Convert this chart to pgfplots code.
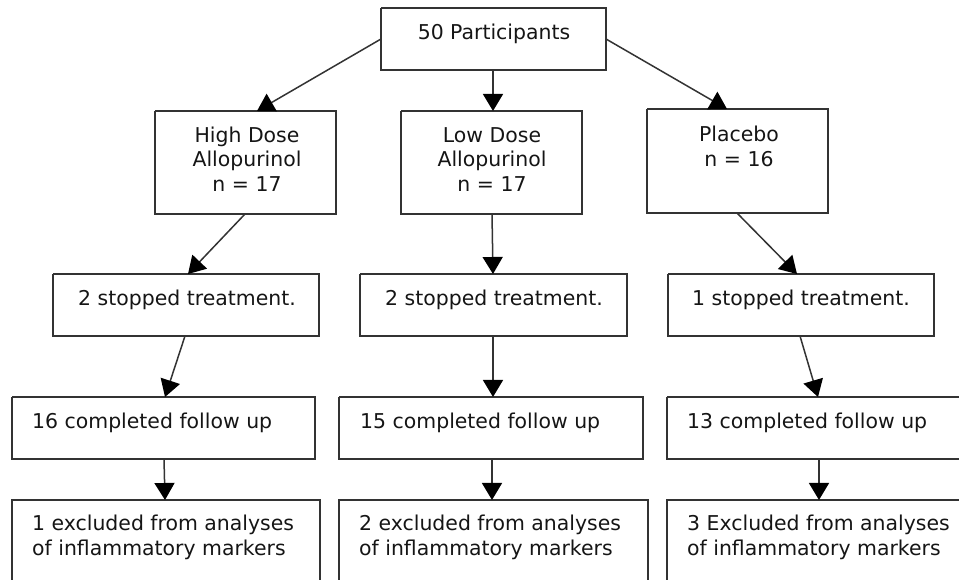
\documentclass[border=0pt]{standalone}
\usepackage{fontspec}
\setmainfont{DejaVu Sans}
\usepackage{pgfplots}
\pgfplotsset{compat=1.18}
\usetikzlibrary{arrows.meta}
\definecolor{ln}{HTML}{333333}
\definecolor{tx}{HTML}{151515}
\begin{document}
\begin{tikzpicture}
\begin{axis}[
  width=959bp, height=580bp, scale only axis,
  xmin=0, xmax=959, ymin=0, ymax=580, y dir=reverse,
  hide axis, clip=true,
  box/.style={line width=1.5bp, draw=ln, solid, no markers, line join=miter},
  arr/.style={line width=1.5bp, draw=ln, solid, no markers, -{Triangle[width=20bp,length=17bp,color=black]}},
]
% boxes
\addplot[box] coordinates {(381,8) (606,8) (606,70) (381,70) (381,8)};
\addplot[box] coordinates {(155,111) (336,111) (336,214) (155,214) (155,111)};
\addplot[box] coordinates {(401,111) (582,111) (582,214) (401,214) (401,111)};
\addplot[box] coordinates {(647,109) (828,109) (828,213) (647,213) (647,109)};
\addplot[box] coordinates {(53,274) (319,274) (319,336) (53,336) (53,274)};
\addplot[box] coordinates {(360,274) (627,274) (627,336) (360,336) (360,274)};
\addplot[box] coordinates {(668,274) (934,274) (934,336) (668,336) (668,274)};
\addplot[box] coordinates {(12,397) (315,397) (315,459) (12,459) (12,397)};
\addplot[box] coordinates {(339,397) (643,397) (643,459) (339,459) (339,397)};
\addplot[box] coordinates {(667,397) (985,397) (985,459) (667,459) (667,397)};
\addplot[box] coordinates {(12,600) (12,500) (320,500) (320,600)};
\addplot[box] coordinates {(339,600) (339,500) (648,500) (648,600)};
\addplot[box] coordinates {(667,600) (667,500) (985,500) (985,600)};
% arrows
\addplot[arr] coordinates {(381,39) (257,111)};
\addplot[arr] coordinates {(493,70) (493,111)};
\addplot[arr] coordinates {(606,39) (727,109)};
\addplot[arr] coordinates {(245,214) (188,274)};
\addplot[arr] coordinates {(492,214) (493,274)};
\addplot[arr] coordinates {(737,213) (797,274)};
\addplot[arr] coordinates {(185,336) (165,397)};
\addplot[arr] coordinates {(493,336) (493,397)};
\addplot[arr] coordinates {(800,336) (818,397)};
\addplot[arr] coordinates {(164,459) (165,500)};
\addplot[arr] coordinates {(492,459) (492,500)};
\addplot[arr] coordinates {(819,459) (819,500)};
% texts
\tikzset{t/.style={inner sep=0pt, text=tx, font=\fontsize{20.5pt}{24pt}\selectfont}}
\node[t, anchor=base] at (axis cs:494,39.5) {50 Participants};
\node[t, anchor=base] at (axis cs:247,142.5) {High Dose};
\node[t, anchor=base] at (axis cs:247,167) {Allopurinol};
\node[t, anchor=base] at (axis cs:247,191.5) {n = 17};
\node[t, anchor=base] at (axis cs:492,142.5) {Low Dose};
\node[t, anchor=base] at (axis cs:492,167) {Allopurinol};
\node[t, anchor=base] at (axis cs:492,191.5) {n = 17};
\node[t, anchor=base] at (axis cs:739,142) {Placebo};
\node[t, anchor=base] at (axis cs:739,166.5) {n = 16};
\node[t, anchor=base] at (axis cs:187,306) {2 stopped treatment.};
\node[t, anchor=base] at (axis cs:494,306) {2 stopped treatment.};
\node[t, anchor=base] at (axis cs:801,306) {1 stopped treatment.};
\node[t, anchor=base west] at (axis cs:32,428.5) {16 completed follow up};
\node[t, anchor=base west] at (axis cs:360,428.5) {15 completed follow up};
\node[t, anchor=base west] at (axis cs:687,428.5) {13 completed follow up};
\node[t, anchor=base west] at (axis cs:32,530.5) {1 excluded from analyses};
\node[t, anchor=base west] at (axis cs:32,555.5) {of inflammatory markers};
\node[t, anchor=base west] at (axis cs:359,530.5) {2 excluded from analyses};
\node[t, anchor=base west] at (axis cs:359,555.5) {of inflammatory markers};
\node[t, anchor=base west] at (axis cs:687,530.5) {3 Excluded from analyses};
\node[t, anchor=base west] at (axis cs:687,555.5) {of inflammatory markers};
\end{axis}
\pgfresetboundingbox
\useasboundingbox (current axis.south west) rectangle (current axis.north east);
\end{tikzpicture}
\end{document}
